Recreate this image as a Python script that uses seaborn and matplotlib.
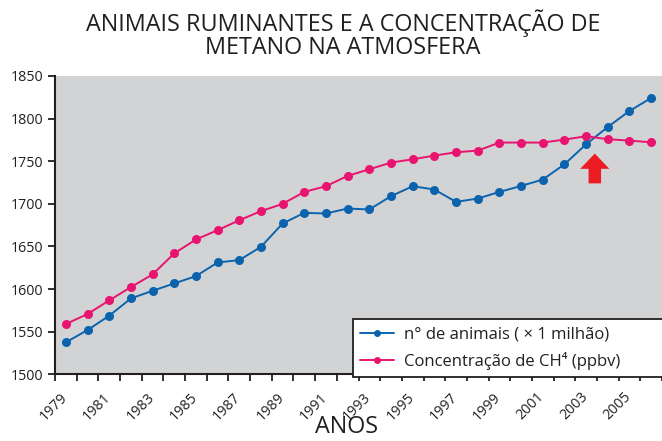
import matplotlib
matplotlib.use("Agg")
import matplotlib.pyplot as plt
import matplotlib.transforms as mtransforms
import numpy as np
import pandas as pd
import seaborn as sns

# dados
anos = list(range(1979, 2007))
animais = [1537.5, 1551.9, 1568.7, 1589.0, 1598.0, 1606.6, 1615.2, 1631.2,
           1634.0, 1649.5, 1677.0, 1689.4, 1688.7, 1694.5, 1693.4, 1709.0,
           1720.7, 1716.8, 1702.3, 1706.2, 1714.0, 1721.0, 1728.5, 1746.4,
           1769.9, 1790.2, 1809.0, 1824.2]
metano = [1559.0, 1570.7, 1586.7, 1602.3, 1617.2, 1641.8, 1658.2, 1669.1,
          1680.8, 1691.4, 1700.0, 1714.0, 1720.7, 1732.8, 1740.6, 1748.4,
          1752.3, 1756.6, 1760.5, 1762.5, 1771.9, 1771.9, 1771.9, 1775.4,
          1779.3, 1775.8, 1774.2, 1772.2]
rotulos_series = ["n° de animais ( × 1 milhão)", "Concentração de CH⁴ (ppbv)"]
cores = ["#0b63ae", "#e8146f"]

df = pd.DataFrame({
    "ano": anos * 2,
    "valor": animais + metano,
    "serie": [rotulos_series[0]] * len(anos) + [rotulos_series[1]] * len(anos),
})

sns.set_style("ticks")
plt.rcParams["font.family"] = ["Open Sans", "DejaVu Sans"]

fig = plt.figure(figsize=(6.62, 4.41), dpi=100)
ax = fig.add_axes([55 / 662, 1 - 374.3 / 441, 1 - 55 / 662, (374.3 - 76) / 441])
ax.set_facecolor("#d1d3d4")

sns.lineplot(data=df, x="ano", y="valor", hue="serie", palette=cores,
             marker="o", markersize=6.5, markeredgewidth=0, linewidth=1.4,
             ax=ax, legend=False)

ax.set_xlim(1978.5, 2006.5)
ax.set_ylim(1500, 1850)
ax.set_yticks(np.arange(1500, 1851, 50))
ax.set_xticks(np.arange(1978.5, 2007, 1))
ax.set_xticklabels([str(int(t + 0.5)) if (int(t + 0.5) - 1979) % 2 == 0 and t < 2006 else ""
                    for t in np.arange(1978.5, 2007, 1)])
ax.tick_params(axis="both", direction="out", length=5, width=1.3, color="#231f20",
               labelsize=10.3, labelcolor="#231f20")
ax.tick_params(axis="x", pad=6)
desloc = mtransforms.ScaledTranslation(5 / 100, 0, fig.dpi_scale_trans)
for rot in ax.get_xticklabels():
    rot.set_rotation(45)
    rot.set_ha("right")
    rot.set_rotation_mode("anchor")
    rot.set_transform(rot.get_transform() + desloc)
for lado in ["top", "right"]:
    ax.spines[lado].set_visible(False)
for lado in ["left", "bottom"]:
    ax.spines[lado].set_linewidth(1.5)
    ax.spines[lado].set_color("#231f20")
ax.set_xlabel("")
ax.set_ylabel("")

# seta vermelha
ax.annotate("", xy=(2003.4, 1759), xytext=(2003.4, 1724),
            arrowprops=dict(arrowstyle="simple,head_length=0.55,head_width=1.05,tail_width=0.45",
                            mutation_scale=20, color="#ed1c24", lw=0,
                            shrinkA=0, shrinkB=0))

fig.text(0.518, 0.978, "ANIMAIS RUMINANTES E A CONCENTRAÇÃO DE\nMETANO NA ATMOSFERA",
         ha="center", va="top", fontsize=16.8, color="#231f20", linespacing=0.95)
fig.text(0.523, 0.004, "ANOS", ha="center", va="bottom", fontsize=16.8, color="#231f20")

alcas = [plt.Line2D([], [], color=c, marker="o", markersize=5, linewidth=1.4,
                    markeredgewidth=0) for c in cores]
leg = fig.legend(alcas, rotulos_series, loc="lower left",
                 bbox_to_anchor=(353 / 662, 1 - 377 / 441, 0.6, 0.13), mode="expand",
                 borderaxespad=0, fontsize=12, frameon=True, fancybox=False,
                 framealpha=1, edgecolor="#231f20", handlelength=2.0,
                 handletextpad=0.6, borderpad=0.45, labelspacing=0.55)
leg.get_frame().set_linewidth(1.3)
for t in leg.get_texts():
    t.set_color("#231f20")

fig.savefig("out.png", dpi=100, facecolor="white")
